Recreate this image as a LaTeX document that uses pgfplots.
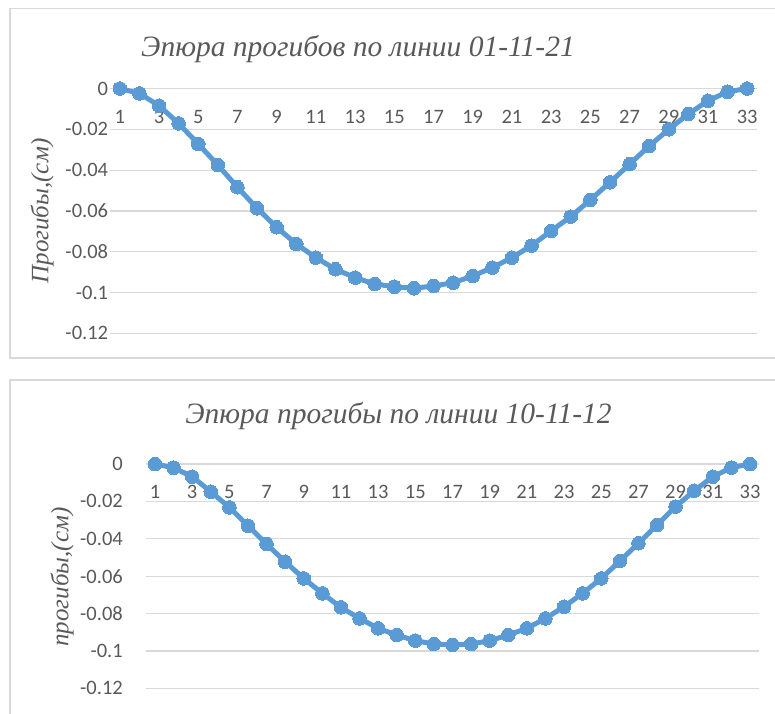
\documentclass[border=0pt]{standalone}
\usepackage{pgfplots}
\pgfplotsset{compat=1.18}
\usepackage{fontspec}
\setmainfont{Liberation Serif}
\newfontfamily\tickfont{Carlito}
\definecolor{txt}{HTML}{595959}
\definecolor{gridc}{HTML}{D9D9D9}
\definecolor{ser}{HTML}{5B9BD5}
\pgfplotsset{excel/.style={
  set layers,
  scale only axis,
  xmin=0.5, xmax=33.5, ymin=-0.12, ymax=0,
  axis line style={draw=none},
  major tick length=0pt,
  xtick={1,3,5,7,9,11,13,15,17,19,21,23,25,27,29,31,33},
  xticklabels={1,3,5,7,9,11,13,15,17,19,21,23,25,27,29,31,33},
  ytick={-0.12,-0.1,-0.08,-0.06,-0.04,-0.02,0},
  yticklabels={-0.12,-0.1,-0.08,-0.06,-0.04,-0.02,0},
  ymajorgrids, major grid style={gridc, line width=1.2pt},
  xticklabel pos=upper,
  xticklabel style={anchor=center, yshift=-28pt, inner sep=0pt},
  tick label style={font=\tickfont\fontsize{20.5}{24}\selectfont, text=txt},
  clip=false,
}}
\begin{document}
\begin{tikzpicture}
\draw[gridc, line width=1.2pt] (10pt,-8.5pt) rectangle (778pt,-358pt);
\draw[gridc, line width=1.2pt] (10pt,-720pt) -- (10pt,-380pt) -- (778pt,-380pt);
\begin{axis}[excel, at={(110pt,-333.3pt)}, anchor=south west, width=647pt, height=244.8pt,
  yticklabel style={anchor=east, inner sep=0pt, xshift=-1.7pt}]
\addplot[color=ser, line width=5pt, mark=*, mark size=6.8pt, mark options={fill=ser, draw=ser, line width=0pt}] coordinates {
(1,0)(2,-0.0024)(3,-0.0084)(4,-0.0171)(5,-0.0272)(6,-0.0375)(7,-0.0484)(8,-0.0587)(9,-0.068)(10,-0.0762)(11,-0.0829)(12,-0.0886)(13,-0.0927)(14,-0.0958)(15,-0.0972)(16,-0.0979)(17,-0.0968)(18,-0.0952)(19,-0.0919)(20,-0.0878)(21,-0.0829)(22,-0.077)(23,-0.0698)(24,-0.0628)(25,-0.0546)(26,-0.046)(27,-0.0371)(28,-0.0282)(29,-0.02)(30,-0.0125)(31,-0.006)(32,-0.0016)(33,0)};
\end{axis}
\begin{axis}[excel, at={(145.7pt,-688.3pt)}, anchor=south west, width=613.6pt, height=224.3pt,
  yticklabel style={anchor=east, inner sep=0pt, xshift=-22.7pt}]
\addplot[color=ser, line width=5pt, mark=*, mark size=6.8pt, mark options={fill=ser, draw=ser, line width=0pt}] coordinates {
(1,0)(2,-0.002)(3,-0.0068)(4,-0.0148)(5,-0.0232)(6,-0.033)(7,-0.0428)(8,-0.0523)(9,-0.0612)(10,-0.0692)(11,-0.0767)(12,-0.0826)(13,-0.0879)(14,-0.0915)(15,-0.0945)(16,-0.0963)(17,-0.0968)(18,-0.0963)(19,-0.0945)(20,-0.0915)(21,-0.0879)(22,-0.0826)(23,-0.0763)(24,-0.0692)(25,-0.0612)(26,-0.0519)(27,-0.0424)(28,-0.0326)(29,-0.0228)(30,-0.0143)(31,-0.0068)(32,-0.0019)(33,0)};
\end{axis}
\node[font=\itshape\fontsize{29.5}{34}\selectfont, text=txt] at (358pt,-49pt) {Эпюра прогибов по линии 01-11-21};
\node[font=\itshape\fontsize{29.5}{34}\selectfont, text=txt] at (398.5pt,-416.5pt) {Эпюра прогибы по линии 10-11-12};
\node[font=\itshape\fontsize{25}{30}\selectfont, text=txt, rotate=90] at (42pt,-211pt) {Прогибы,(см)};
\node[font=\itshape\fontsize{25}{30}\selectfont, text=txt, rotate=90] at (62pt,-577pt) {прогибы,(см)};
\pgfresetboundingbox
\path (0pt,0pt) rectangle (775pt,-713pt);
\end{tikzpicture}
\end{document}
